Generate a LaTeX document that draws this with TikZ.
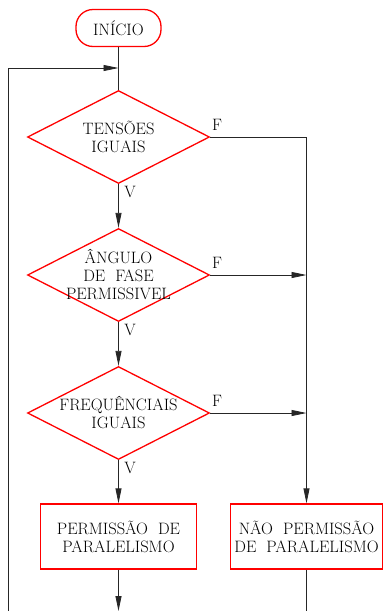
\documentclass[tikz,border=0pt]{standalone}
\usetikzlibrary{shapes.geometric,arrows.meta}
\begin{document}
\begin{tikzpicture}[x=1pt,y=-1pt,
  red line/.style={draw=red,line width=1.3pt},
  dia/.style={red line,shape=diamond,inner sep=0pt,minimum width=182pt,minimum height=93pt},
  txt/.style={align=center,font=\fontsize{16.5}{18}\selectfont,inner sep=0pt},
  box/.style={red line,rectangle,minimum height=65pt,txt,inner sep=0pt},
  conn/.style={draw=black!85,line width=0.8pt},
  arr/.style={conn,-{Triangle[length=15pt,width=6pt]}},
  lab/.style={font=\fontsize{16.5}{18}\selectfont,inner sep=0pt}]
\useasboundingbox (0,0) rectangle (383,611);
\node[red line,rounded corners=17pt,minimum width=85pt,minimum height=37pt,txt] (start) at (118.5,28) {INÍCIO};
\node[dia,label={[txt]center:TENSÕES\\IGUAIS}] (d1) at (118.5,137) {};
\node[dia,label={[txt]center:ÂNGULO\\DE\ \ FASE\\PERMISSIVEL}] (d2) at (118.5,275) {};
\node[dia,label={[txt]center:FREQUÊNCIAIS\\IGUAIS}] (d3) at (118.5,413) {};
\node[box,minimum width=156pt] (p) at (118.5,536.5) {PERMISSÃO\ \ DE\\PARALELISMO};
\node[box,minimum width=152pt] (np) at (306.5,536.5) {NÃO\ \ PERMISSÃO\\DE\ \ PARALELISMO};
\coordinate (m) at (118.5,68);
\coordinate (loopTop) at (8,68);
\coordinate (loopBot) at (8,611);
\coordinate (j1) at (np.north |- d1.east);
\coordinate (j2) at (np.north |- d2.east);
\coordinate (j3) at (np.north |- d3.east);
\coordinate (e1) at (118.5,611);
\coordinate (e2) at (306.5,611);
\draw[conn] (start.south) -- (d1.north);
\draw[arr] (loopBot) -- (loopTop) -- (m);
\draw[arr] (d1.south) -- (d2.north);
\draw[arr] (d2.south) -- (d3.north);
\draw[arr] (d3.south) -- (p.north);
\draw[arr] (d1.east) -- (j1) -- (np.north);
\draw[arr] (d2.east) -- (j2);
\draw[arr] (d3.east) -- (j3);
\draw[arr] (p.south) -- (e1);
\draw[conn] (np.south) -- (e2);
\node[lab] (f1) at (217,125) {F};
\node[lab] (f2) at (217,263) {F};
\node[lab] (f3) at (217,401) {F};
\node[lab] (v1) at (130,192) {V};
\node[lab] (v2) at (130,330) {V};
\node[lab] (v3) at (130,468) {V};
\end{tikzpicture}
\end{document}
